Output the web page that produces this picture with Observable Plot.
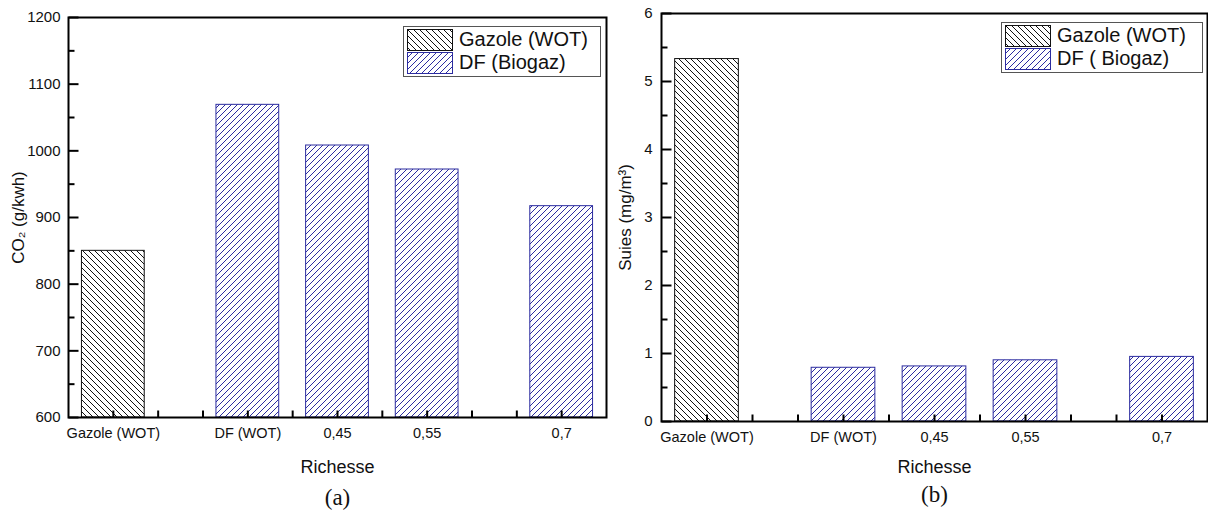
<!DOCTYPE html>
<html>
<head>
<meta charset="utf-8">
<script src="https://cdn.jsdelivr.net/npm/d3@7"></script>
<script src="https://cdn.jsdelivr.net/npm/@observablehq/plot@0.6"></script>
<style>
  html, body { margin: 0; padding: 0; background: #fff; }
  body { width: 1208px; height: 512px; position: relative; overflow: hidden; font-family: "Liberation Sans", Arial, sans-serif; }
  .panel { position: absolute; top: 0; }
  .legend { position: absolute; border: 1px solid #555; background: #fff; box-sizing: border-box; }
  .legend .row { position: absolute; left: 0; right: 0; height: 22px; }
  .legend svg { position: absolute; left: 3px; top: 0; }
  .legend span { position: absolute; top: -1px; font-size: 20px; line-height: 22px; color: #111; white-space: pre; }
</style>
</head>
<body>
<svg width="0" height="0" style="position:absolute">
  <defs>
    <pattern id="hatchBlack" patternUnits="userSpaceOnUse" width="6" height="6">
      <path d="M0,0 L6,6 M-1,5 L1,7 M5,-1 L7,1" stroke="#111" stroke-width="1" fill="none"/>
    </pattern>
    <pattern id="hatchBlue" patternUnits="userSpaceOnUse" width="6" height="6">
      <path d="M0,6 L6,0 M-1,1 L1,-1 M5,7 L7,5" stroke="#2c2ca0" stroke-width="1" fill="none"/>
    </pattern>
  </defs>
</svg>
<div id="a" class="panel" style="left:0px"></div>
<div id="b" class="panel" style="left:608px"></div>
<script>
// ---- data ----
const categories = ["Gazole (WOT)", "DF (WOT)", "0,45", "0,55", "0,7"];
const xPositions = [0, 3, 5, 7, 10];
const series = ["Gazole (WOT)", "DF (Biogaz)", "DF (Biogaz)", "DF (Biogaz)", "DF (Biogaz)"];
const co2Values = [850, 1069, 1008, 972, 917];
const suiesValues = [5.33, 0.79, 0.81, 0.90, 0.95];
const co2Ticks = [600, 700, 800, 900, 1000, 1100, 1200];
const co2Minor = [650, 750, 850, 950, 1050, 1150];
const suiesTicks = [0, 1, 2, 3, 4, 5, 6];
const suiesMinor = [0.5, 1.5, 2.5, 3.5, 4.5, 5.5];
const xMinorTicks = [0, 1, 2, 3, 4, 5, 6, 7, 8, 9, 10];
const xDomain = [-1, 11];
const legendA = ["Gazole (WOT)", "DF (Biogaz)"];
const legendB = ["Gazole (WOT)", "DF ( Biogaz)"];

const fills = {"Gazole (WOT)": "url(#hatchBlack)", "DF (Biogaz)": "url(#hatchBlue)"};
const strokes = {"Gazole (WOT)": "#111", "DF (Biogaz)": "#2c2ca0"};

function panel(values, yTicks, yMinor, yLabel, letter, L) {
  const rows = categories.map((c, i) => ({cat: c, x: xPositions[i], series: series[i], v: values[i]}));
  const yDom = [yTicks[0], yTicks[yTicks.length - 1]];
  const base = yDom[0];
  const fw = L.width - L.ml - L.mr;
  const fh = 512 - L.mt - L.mb;
  // inward tick lengths in pixels, converted to data units of each scale
  const xPerPx = (xDomain[1] - xDomain[0]) / fw;
  const yPerPx = (yDom[1] - yDom[0]) / fh;
  const yMajorRows = yTicks.map(t => ({y: t, x1: xDomain[0], x2: xDomain[0] + 10 * xPerPx}));
  const yMinorRows = yMinor.map(t => ({y: t, x1: xDomain[0], x2: xDomain[0] + 6 * xPerPx}));
  const xTickRows = xMinorTicks.map(t => ({x: t, y1: base, y2: base + 7 * yPerPx}));
  const barMarks = Object.keys(fills).map(s =>
    Plot.rect(rows.filter(d => d.series === s), {
      x1: d => d.x - 0.7, x2: d => d.x + 0.7, y1: base, y2: "v",
      fill: fills[s], stroke: strokes[s], strokeWidth: 1
    })
  );
  return Plot.plot({
    width: L.width, height: 512,
    marginLeft: L.ml, marginRight: L.mr, marginTop: L.mt, marginBottom: L.mb,
    style: {fontFamily: "'Liberation Sans', Arial, sans-serif", color: "#111", background: "transparent", overflow: "visible"},
    x: {domain: xDomain, axis: null},
    y: {domain: yDom, axis: null},
    marks: [
      ...barMarks,
      Plot.axisY(yTicks, {tickSize: 0, tickPadding: L.yPad, fontSize: 15, tickFormat: d => String(d), label: null}),
      Plot.link(yMajorRows, {x1: "x1", x2: "x2", y1: "y", y2: "y", stroke: "#000", strokeWidth: 2}),
      Plot.link(yMinorRows, {x1: "x1", x2: "x2", y1: "y", y2: "y", stroke: "#000", strokeWidth: 2}),
      Plot.axisX(xPositions, {tickSize: 0, tickPadding: 10, fontSize: 14.5, tickFormat: d => categories[xPositions.indexOf(d)], label: null}),
      Plot.link(xTickRows, {x1: "x", x2: "x", y1: "y1", y2: "y2", stroke: "#000", strokeWidth: 2}),
      Plot.frame({stroke: "#000", strokeWidth: 2}),
      Plot.text([yLabel], {frameAnchor: "left", textAnchor: "middle", lineAnchor: "middle", rotate: -90, dx: L.ylDx, fontSize: 17}),
      Plot.text(["Richesse"], {frameAnchor: "bottom", lineAnchor: "middle", dy: L.rDy, fontSize: 18}),
      Plot.text([letter], {frameAnchor: "bottom", lineAnchor: "middle", dy: L.lDy, fontSize: 23, fontFamily: "'Liberation Serif', 'Times New Roman', serif"})
    ]
  });
}

document.getElementById("a").append(panel(co2Values, co2Ticks, co2Minor, "CO₂ (g/kwh)", "(a)",
  {width: 608, ml: 68, mr: 2, mt: 17, mb: 95, yPad: 8, ylDx: -50, rDy: 50, lDy: 80}));
document.getElementById("b").append(panel(suiesValues, suiesTicks, suiesMinor, "Suies (mg/m³)", "(b)",
  {width: 600, ml: 53, mr: 1, mt: 13, mb: 91, yPad: 9, ylDx: -36, rDy: 46, lDy: 73}));

function legend(labels, box) {
  const div = document.createElement("div");
  div.className = "legend";
  Object.assign(div.style, {left: box.x + "px", top: box.y + "px", width: box.w + "px", height: box.h + "px"});
  labels.forEach((lab, i) => {
    const key = series[i === 0 ? 0 : 1];
    const row = document.createElement("div");
    row.className = "row";
    row.style.top = (2 + i * 23) + "px";
    row.innerHTML = `<svg width="46" height="22"><rect x="0.5" y="0.5" width="45" height="21" fill="${fills[key]}" stroke="${strokes[key]}" stroke-width="1"/></svg><span style="left:${box.tx}px">${lab}</span>`;
    div.append(row);
  });
  document.body.append(div);
}
legend(legendA, {x: 403, y: 26, w: 198, h: 51, tx: 55});
legend(legendB, {x: 1001, y: 22, w: 202, h: 51, tx: 55});
</script>
</body>
</html>
